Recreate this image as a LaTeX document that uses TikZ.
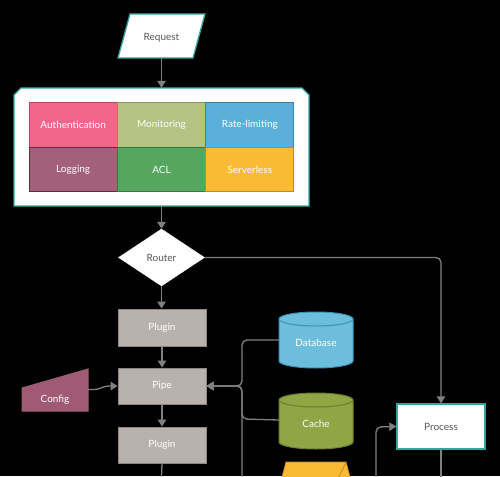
\documentclass[tikz,border=0pt]{standalone}
\usepackage{fontspec}
\setmainfont{Lato}
\usetikzlibrary{arrows.meta,shapes.geometric}
\definecolor{teal}{RGB}{50,165,158}
\definecolor{cgray}{RGB}{128,128,128}
\definecolor{tdark}{RGB}{85,85,85}
\definecolor{cauth}{RGB}{242,102,139}
\definecolor{cauthd}{RGB}{190,70,100}
\definecolor{cmon}{RGB}{180,194,130}
\definecolor{cmond}{RGB}{135,150,90}
\definecolor{crate}{RGB}{91,175,216}
\definecolor{crated}{RGB}{55,130,170}
\definecolor{clog}{RGB}{162,96,122}
\definecolor{clogd}{RGB}{100,40,65}
\definecolor{cacl}{RGB}{86,166,95}
\definecolor{cacld}{RGB}{55,120,65}
\definecolor{cserv}{RGB}{251,186,51}
\definecolor{cservd}{RGB}{190,140,30}
\definecolor{pgray}{RGB}{185,177,174}
\definecolor{pgrayd}{RGB}{140,133,130}
\definecolor{cdb}{RGB}{108,190,220}
\definecolor{cdbd}{RGB}{60,145,180}
\definecolor{ccache}{RGB}{142,166,69}
\definecolor{ccached}{RGB}{105,125,45}
\definecolor{cconf}{RGB}{160,90,115}
\definecolor{cyel}{RGB}{251,186,51}
\begin{document}
\begin{tikzpicture}[x=1pt,y=-1pt,font=\fontsize{10}{12}\selectfont,
  conn/.style={draw=cgray,line width=1.3pt,rounded corners=5pt},
  arr/.style={conn,-{Triangle[width=8.5pt,length=7pt]}},
  cell/.style={line width=1pt,minimum width=88.3pt,minimum height=44.5pt,inner sep=0pt,text=white},
  graybox/.style={fill=pgray,draw=pgrayd,line width=1pt,minimum width=88pt,minimum height=36pt,inner sep=0pt,text=white},
  ghost/.style={inner sep=0pt}]
\fill[black] (0,0) rectangle (500,476);
\useasboundingbox (0,0) rectangle (500,476);

% Request
\draw[fill=white,draw=teal,line width=1.3pt] (118,58)--(130,14)--(205,14)--(193,58)--cycle;
\node[ghost,minimum width=75pt,minimum height=44pt] (request) at (161.5,36) {};
\node[ghost,text=tdark] (requestlbl) at (161.5,37.5) {Request};

% container
\draw[fill=white,draw=teal,line width=1.3pt] (14,95)--(21,88)--(302,88)--(309,95)--(309,206)--(14,206)--cycle;
\node[ghost,minimum width=295pt,minimum height=118pt] (cont) at (161.5,147) {};

% grid
\node[cell,fill=cauth,draw=cauthd] (auth) at (73.2,125.2) {Authentication};
\node[cell,fill=cmon,draw=cmond] (mon) at (161.5,125.2) {Monitoring};
\node[cell,fill=crate,draw=crated] (rate) at (249.8,125.2) {Rate-limiting};
\node[cell,fill=clog,draw=clogd] (log) at (73.2,169.7) {Logging};
\node[cell,fill=cacl,draw=cacld] (acl) at (161.5,169.7) {ACL};
\node[cell,fill=cserv,draw=cservd] (serv) at (249.8,169.7) {Serverless};

% Router
\node[diamond,fill=white,draw=white,minimum width=86pt,minimum height=57pt,inner sep=0pt,text=tdark] (router) at (161.5,257.5) {Router};

% plugins
\node[graybox,minimum height=37pt] (plugin1) at (162,327.5) {Plugin};
\node[graybox] (pipe) at (162,386) {Pipe};
\node[graybox] (plugin2) at (162,445) {Plugin};

% Config
\draw[fill=cconf,draw=cconf,line width=1pt] (22,411)--(22,388)--(88,369)--(88,411)--cycle;
\node[ghost,text=white] (config) at (55,399.5) {Config};
\coordinate (cfgout) at (88,389.5);

% Database cylinder
\draw[fill=cdb,draw=cdbd,line width=1pt] (279,319) -- (279,361) arc (180:360:37pt and 7pt) -- (353,319) arc (0:180:37pt and 7pt) -- cycle;
\draw[draw=cdbd,line width=1pt] (279,319) arc (180:360:37pt and 7pt);
\node[ghost,minimum width=74pt,minimum height=56pt] (db) at (316,340) {};
\node[ghost,text=white] (dblbl) at (316,343) {Database};

% Cache cylinder
\draw[fill=ccache,draw=ccached,line width=1pt] (279,400) -- (279,442) arc (180:360:37pt and 7pt) -- (353,400) arc (0:180:37pt and 7pt) -- cycle;
\draw[draw=ccached,line width=1pt] (279,400) arc (180:360:37pt and 7pt);
\node[ghost,minimum width=74pt,minimum height=56pt] (cache) at (316,420) {};
\node[ghost,text=white] (cachelbl) at (316,424) {Cache};

% yellow shape (cut off)
\draw[fill=cyel,draw=cservd,line width=0.8pt] (282,477)--(286,462)--(346,462)--(350,477);
\draw[draw=cservd,line width=0.8pt] (346,462)--(339,477);

% Process
\node[fill=white,draw=teal,line width=1.3pt,minimum width=88pt,minimum height=45pt,inner sep=0pt,text=tdark] (process) at (441,426.5) {Process};

% free ends
\coordinate (p2out) at (161.5,477);
\coordinate (busin) at (242,477);
\coordinate (pin) at (376,477);
\coordinate (pout) at (441,477);

% connectors
\draw[arr] (request.south) -- (cont.north);
\draw[arr] (cont.south) -- (router.north);
\draw[arr] (router.south) -- (plugin1.north -| router.south);
\draw[arr] (plugin1.south) -- (pipe.north);
\draw[arr] (pipe.south) -- (plugin2.north);
\draw[conn] (plugin2.south) -- (p2out);
\draw[arr] (router.east) -- (441,257.5) -- (process.north);
\draw[arr] (db.west) -- (242,340) -- (242,386) -- (pipe.east);
\draw[arr] (cache.west) -- (242,419) -- (242,386) -- (pipe.east);
\draw[arr] (busin) -- (242,386) -- (pipe.east);
\draw[arr,rounded corners=3pt] (cfgout) -- (97,389.5) -- (106,386) -- (pipe.west);
\draw[arr] (pin) -- (376,427) -- (process.west);
\draw[conn] (process.south) -- (pout);
\end{tikzpicture}
\end{document}
